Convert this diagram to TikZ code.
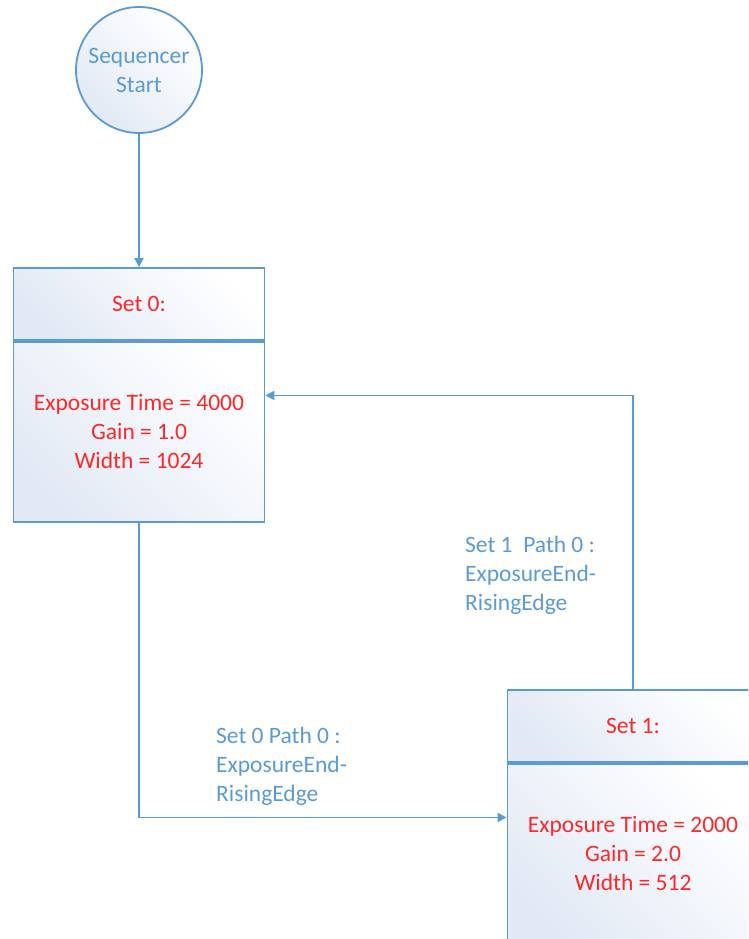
\documentclass[tikz,border=0pt]{standalone}
\usepackage{fontspec}
\setmainfont{Carlito}
\usetikzlibrary{positioning,calc,arrows.meta}
\definecolor{lineblue}{RGB}{91,155,213}
\definecolor{textred}{RGB}{255,40,40}
\definecolor{shadeblue}{RGB}{226,233,245}
\tikzset{
  flow/.style={draw=lineblue,line width=1.8pt,-{Triangle[length=9pt,width=9pt]}},
  setbox/.style={draw=lineblue,line width=1.8pt,left color=white,right color=shadeblue,
    shading angle=-45,minimum width=251pt,text=textred,align=center,inner sep=0pt},
  sethead/.style={setbox,minimum height=72pt},
  setbody/.style={setbox,minimum height=180pt},
  pathlabel/.style={text=lineblue,align=left,anchor=north west,inner sep=0pt}
}
\begin{document}
\begin{tikzpicture}[x=1pt,y=-1pt,font=\fontsize{23.5}{29}\selectfont]
  \useasboundingbox (0,0) rectangle (748,939);
  \clip (0,0) rectangle (748,939);
  % start circle
  \node[circle,draw=lineblue,line width=1.8pt,left color=white,right color=shadeblue,
    shading angle=-45,minimum size=126pt,inner sep=0pt,text=lineblue,align=center]
    (start) at (139,70) {Sequencer\\Start};
  % set 0
  \node[sethead] (set0) at (139,304) {Set 0:};
  \node[setbody,below=0pt of set0] (set0body) {Exposure Time = 4000\\Gain = 1.0\\Width = 1024};
  % set 1
  \node[sethead] (set1) at (633,726) {Set 1:};
  \node[setbody,below=0pt of set1] (set1body) {Exposure Time = 2000\\Gain = 2.0\\Width = 512};
  % entry points
  \coordinate (in0) at ($(set0body.north east)!0.3!(set0body.south east)$);
  \coordinate (in1) at ($(set1body.north west)!0.3!(set1body.south west)$);
  % connectors
  \draw[flow] (start) -- (set0);
  \draw[flow] (set0body.south) |- (in1);
  \draw[flow] (set1.north) |- (in0);
  % path labels
  \node[pathlabel] (lab1) at (465,536) {Set 1\ \ Path 0 :\\ExposureEnd-\\RisingEdge};
  \node[pathlabel] (lab0) at (216,727) {Set 0 Path 0 :\\ExposureEnd-\\RisingEdge};
\end{tikzpicture}
\end{document}
